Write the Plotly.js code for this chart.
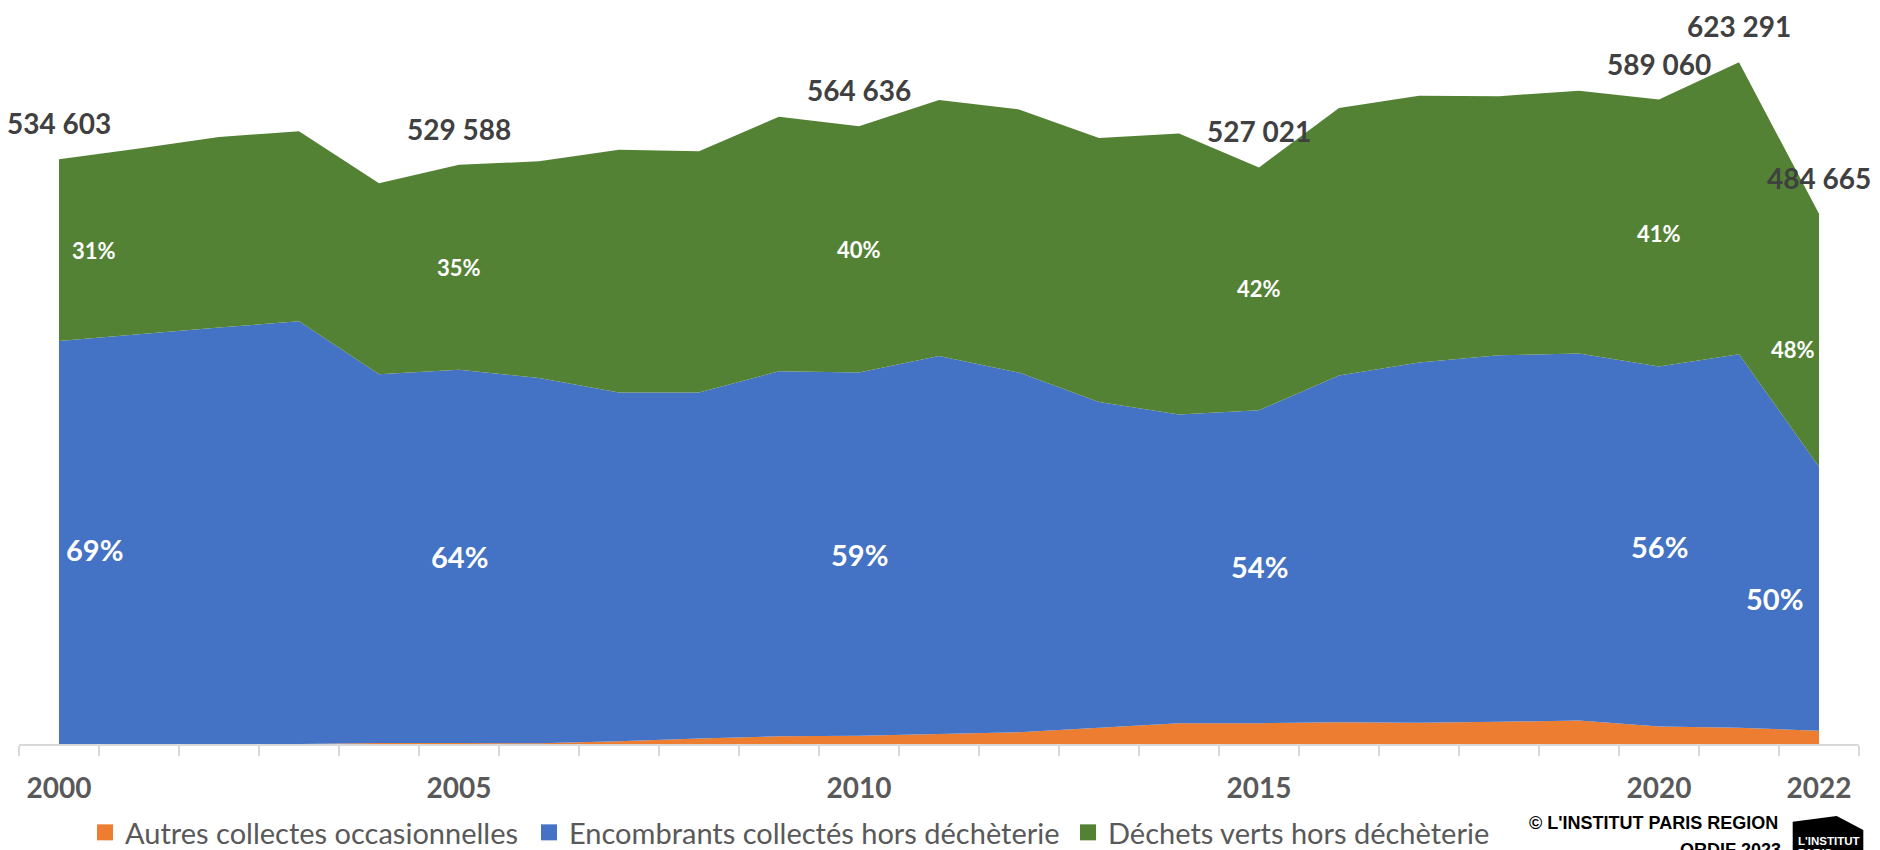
<!DOCTYPE html>
<html><head><meta charset="utf-8">
<script src="https://cdn.plot.ly/plotly-3.0.1.min.js"></script>
<style>html,body{margin:0;padding:0;background:#fff}#chart{width:1880px;height:850px}</style>
</head><body><div id="chart"></div>
<script>
// ---- data (tonnes) ----
const years = [2000,2001,2002,2003,2004,2005,2006,2007,2008,2009,2010,2011,2012,2013,2014,2015,2016,2017,2018,2019,2020,2021,2022];
const autresCollectes = [0,0,0,0,800,1000,600,2500,5000,7000,7600,9100,10700,14800,19000,19000,19900,19400,20300,21500,16000,14800,12100];
const encombrants = [368400,374500,380700,386400,337200,341000,334000,318800,316300,333700,331900,345600,328800,297900,282200,286100,316900,329300,335000,335400,329000,341500,241400];
const dechetsVerts = [166203,169900,174100,173800,174500,187588,198000,222000,220500,232700,225136,233900,240600,241200,256900,221921,244500,243900,236900,240300,244060,266991,231165];
const seriesNames = ['Autres collectes occasionnelles','Encombrants collectés hors déchèterie','Déchets verts hors déchèterie'];
const tickYears = [2000,2005,2010,2015,2020,2022];
const tickLabels = ['2000','2005','2010','2015','2020','2022'];
const shareLabelYears = [2000,2005,2010,2015,2020,2022];
const totalLabelYears = [2000,2005,2010,2015,2020,2021,2022];

// ---- styling ----
const colors = ['#ED7D31','#4472C4','#548235'];
const FONT = 'Lato, "Open Sans", sans-serif';
const M = {l:19, r:21, t:22, b:106};
const W = 1880 - M.l - M.r, H = 850 - M.t - M.b;
const px2x = p => (p - M.l) / W;
const py2y = p => (850 - M.b - p) / H;

const series = [autresCollectes, encombrants, dechetsVerts];
const totals = years.map((_, i) => series.reduce((s, a) => s + a[i], 0));
const fmt = n => String(Math.round(n)).replace(/\B(?=(\d{3})+(?!\d))/g, ' ');

const traces = series.map((vals, k) => ({
  type: 'scatter', x: years, y: vals, stackgroup: 'one', mode: 'none',
  fillcolor: colors[k], name: seriesNames[k], showlegend: false, hoverinfo: 'skip'
}));
// legend entries (square markers)
const legendKeys = ['legend','legend2','legend3'];
series.forEach((vals, k) => traces.push({
  type: 'scatter', x: [null], y: [null], mode: 'markers', name: seriesNames[k],
  marker: {symbol: 'square', size: 17, color: colors[k]}, legend: legendKeys[k], hoverinfo: 'skip'
}));

const annotations = [];
totalLabelYears.forEach(yr => {
  const i = years.indexOf(yr);
  annotations.push({x: yr, y: totals[i], xref: 'x', yref: 'y', text: fmt(totals[i]), showarrow: false,
    yshift: 36, font: {family: FONT, size: 28, color: '#404040', weight: 700}});
});
const edgeShift = {2000: {g: [35, 0], b: [35, -7]}, 2022: {g: [-26, -9], b: [-45, 0]}};
shareLabelYears.forEach(yr => {
  const i = years.indexOf(yr);
  const o = autresCollectes[i], b = encombrants[i], g = dechetsVerts[i], t = totals[i];
  const sh = edgeShift[yr] || {g: [0, 0], b: [0, 0]};
  annotations.push({x: yr, y: o + b + g / 2, text: Math.round(100 * g / t) + '%', showarrow: false,
    xshift: sh.g[0], yshift: sh.g[1], font: {family: FONT, size: 22, color: '#ffffff', weight: 700}});
  annotations.push({x: yr, y: o + b / 2, text: Math.round(100 * b / t) + '%', showarrow: false,
    xshift: sh.b[0], yshift: sh.b[1], font: {family: FONT, size: 29, color: '#ffffff', weight: 700}});
});
// credits
const creditFont = {family: '"Liberation Sans", Arial, sans-serif', size: 18, color: '#000000', weight: 700};
annotations.push({xref: 'paper', yref: 'paper', x: px2x(1780), y: py2y(823), xanchor: 'right', yanchor: 'middle',
  text: "© L'INSTITUT PARIS REGION", showarrow: false, font: creditFont});
annotations.push({xref: 'paper', yref: 'paper', x: px2x(1783), y: py2y(850), xanchor: 'right', yanchor: 'middle',
  text: 'ORDIF 2023', showarrow: false, font: creditFont});
const logoFont = {family: '"Liberation Sans", Arial, sans-serif', size: 11.5, color: '#ffffff', weight: 700};
annotations.push({xref: 'paper', yref: 'paper', x: px2x(1796), y: py2y(841), xanchor: 'left', yanchor: 'middle',
  text: "L'INSTITUT", showarrow: false, font: logoFont});
annotations.push({xref: 'paper', yref: 'paper', x: px2x(1796), y: py2y(853), xanchor: 'left', yanchor: 'middle',
  text: 'PARIS', showarrow: false, font: logoFont});

const logoPts = [[1792.7,821.7],[1836.7,816],[1863.3,830],[1863.3,852],[1792.7,852]];
const logoPath = 'M' + logoPts.map(p => px2x(p[0]).toFixed(5) + ',' + py2y(p[1]).toFixed(5)).join(' L') + ' Z';

const legendFont = {family: FONT, size: 29, color: '#595959'};
const legBase = {orientation: 'h', xanchor: 'left', yanchor: 'top', y: py2y(807), font: legendFont,
  bgcolor: 'rgba(0,0,0,0)', borderwidth: 0, itemclick: false, itemdoubleclick: false};

const layout = {
  width: 1880, height: 850, margin: {l: M.l, r: M.r, t: M.t, b: M.b, pad: 0, autoexpand: false},
  paper_bgcolor: '#ffffff', plot_bgcolor: '#ffffff', showlegend: true, hovermode: false,
  xaxis: {range: [1999.5, 2022.5], tickmode: 'array', tickvals: tickYears, ticktext: tickLabels,
    ticks: '', showgrid: false, zeroline: false, showline: true, linecolor: '#d9d9d9', linewidth: 2,
    tickfont: {family: FONT, size: 28, color: '#595959', weight: 700}, ticklabelstandoff: 18, automargin: false,
    minor: {tick0: 1999.5, dtick: 1, ticks: 'outside', ticklen: 10, tickwidth: 2, tickcolor: '#d9d9d9', showgrid: false}},
  yaxis: {range: [0, 660000], visible: false, automargin: false},
  legend: Object.assign({}, legBase, {x: px2x(85)}),
  legend2: Object.assign({}, legBase, {x: px2x(529)}),
  legend3: Object.assign({}, legBase, {x: px2x(1068)}),
  annotations: annotations,
  shapes: [{type: 'path', xref: 'paper', yref: 'paper', path: logoPath, fillcolor: '#000000', line: {width: 0}}]
};

Plotly.newPlot('chart', traces, layout, {displayModeBar: false, staticPlot: true});
</script>
</body></html>
